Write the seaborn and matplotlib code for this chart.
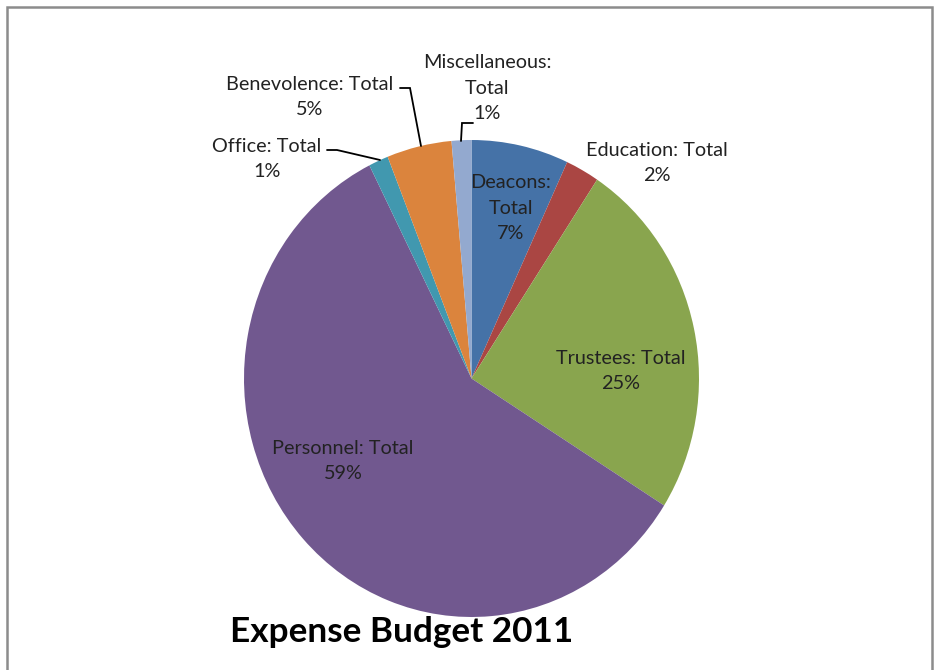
import matplotlib
matplotlib.use("Agg")
import matplotlib.pyplot as plt
import seaborn as sns
from matplotlib.patches import Rectangle

# Expense categories, clockwise from 12 o'clock (share of total, %)
categories = ["Deacons", "Education", "Trustees", "Personnel", "Office", "Benevolence", "Miscellaneous"]
shares = [6.9, 2.4, 24.6, 58.6, 1.4, 4.6, 1.4]
colors = ["#4572A7", "#AA4643", "#89A54E", "#71588F", "#4198AF", "#DB843D", "#93A9CF"]

sns.set_theme(style="white")
plt.rcParams["font.family"] = ["Lato", "DejaVu Sans"]

W, H = 935, 670
fig = plt.figure(figsize=(W / 100, H / 100), dpi=100)

# pie centre / radii in pixels (the original is slightly stretched vertically)
cx, cy, rx, ry = 471.5, 378.5, 227.5, 238.5
ax = fig.add_axes([(cx - rx) / W, (H - cy - ry) / H, 2 * rx / W, 2 * ry / H])
ax.pie(shares, colors=colors, startangle=90, counterclock=False,
       wedgeprops=dict(linewidth=0))
ax.set_aspect("auto")
ax.set_xlim(-1, 1)
ax.set_ylim(-1, 1)
ax.axis("off")


def px(x, y):
    # pixel position -> pie data coords
    return (x - cx) / rx, (cy - y) / ry


# label text + where it sits (pixels) + optional leader line
label_names = ["Deacons:\nTotal", "Education: Total", "Trustees: Total", "Personnel: Total",
               "Office: Total", "Benevolence: Total", "Miscellaneous:\nTotal"]
label_pos = [(511, 208), (657, 163), (621, 371), (343, 461), (267, 159), (310, 97), (487, 88)]
leaders = {
    "Office": [(327, 150), (337, 150), (380, 160)],
    "Benevolence": [(400, 88), (410, 88), (421, 146)],
    "Miscellaneous": [(473, 123), (462, 123), (461, 141)],
}

for name, lab, val, (lx, ly) in zip(categories, label_names, shares, label_pos):
    x, y = px(lx, ly)
    ax.text(x, y, f"{lab}\n{val:.0f}%", ha="center", va="center", fontsize=14.3,
            color="#222222", linespacing=1.62, clip_on=False)
    if name in leaders:
        pts = [px(a, b) for a, b in leaders[name]]
        ax.plot([p[0] for p in pts], [p[1] for p in pts], color="black", lw=1.3,
                clip_on=False, solid_joinstyle="miter")

fig.text(402 / W, 1 - 632 / H, "Expense Budget 2011", ha="center", va="center",
         fontsize=25.3, fontweight="bold", color="black")

# grey chart-area frame (bottom edge falls outside the picture)
fig.patches.append(Rectangle((7 / W, -0.05), (932 - 7) / W, 1.05 - 7 / H,
                             transform=fig.transFigure, fill=False,
                             edgecolor="#8c8c8c", linewidth=1.8))

fig.savefig("out.png", dpi=100)
